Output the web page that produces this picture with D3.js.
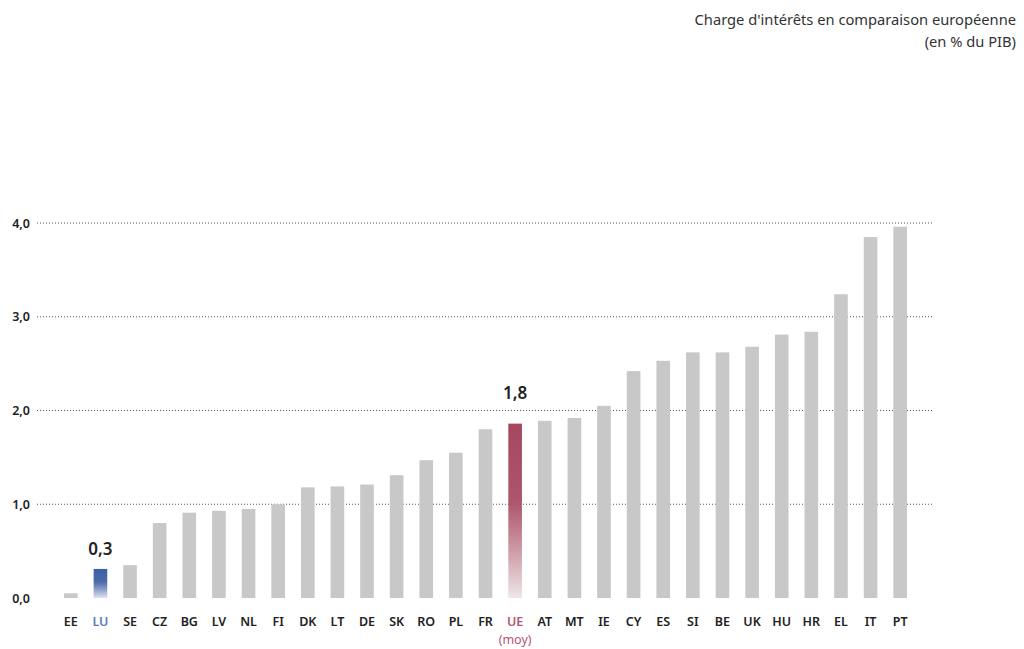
<!DOCTYPE html>
<html>
<head>
<meta charset="utf-8">
<script src="https://cdn.jsdelivr.net/npm/d3@7"></script>
<style>
  body { margin: 0; background: #fff; }
  svg { font-family: "Noto Sans", "Open Sans", sans-serif; }
</style>
</head>
<body>
<svg id="chart" width="1024" height="649"></svg>
<script>
// données
const countries = ['EE','LU','SE','CZ','BG','LV','NL','FI','DK','LT','DE','SK','RO','PL','FR','UE','AT','MT','IE','CY','ES','SI','BE','UK','HU','HR','EL','IT','PT'];
const values    = [0.05,0.31,0.35,0.80,0.91,0.93,0.95,1.00,1.18,1.19,1.21,1.31,1.47,1.55,1.80,1.86,1.89,1.92,2.05,2.42,2.53,2.62,2.62,2.68,2.81,2.84,3.24,3.85,3.96];
const yTicks    = [0, 1, 2, 3, 4];
const highlightLabels = {LU: '0,3', UE: '1,8'};

// style des points mis en avant
const labelOffset = {LU: 14, UE: 25};
const labelColor  = {LU: '#5a7bb5', UE: '#b5566f'};

const svg = d3.select('#chart');
const data = countries.map((c,i) => ({country: c, value: values[i]}));

// échelles
const x = d3.scaleBand().domain(countries).range([56, 915]).paddingInner(0.54).paddingOuter(0.27);
const y = d3.scaleLinear().domain([0, 4]).range([598, 223]);

// dégradés pour LU et UE
const defs = svg.append('defs');
[['grad-lu','#3b5fa3','#dfe3ee'],['grad-ue','#a6475f','#efe6e8']].forEach(([id,top,bottom]) => {
  const g = defs.append('linearGradient').attr('id', id)
    .attr('x1',0).attr('y1',0).attr('x2',0).attr('y2',1);
  g.append('stop').attr('offset','0%').attr('stop-color', top);
  g.append('stop').attr('offset','45%').attr('stop-color', top).attr('stop-opacity', 0.92);
  g.append('stop').attr('offset','100%').attr('stop-color', bottom);
});

// titre
svg.append('text').attr('x', 1016).attr('y', 25).attr('text-anchor','end')
  .attr('font-size', 14.7).attr('fill','#333').text("Charge d'intérêts en comparaison européenne");
svg.append('text').attr('x', 1016).attr('y', 47).attr('text-anchor','end')
  .attr('font-size', 14.7).attr('fill','#333').text('(en % du PIB)');

// grille
svg.append('g').selectAll('line').data(yTicks.filter(d => d > 0)).join('line')
  .attr('x1', 37).attr('x2', 932)
  .attr('y1', d => y(d)).attr('y2', d => y(d))
  .attr('stroke', '#555').attr('stroke-width', 1).attr('stroke-dasharray', '1,2');

// axe y
const yAxis = svg.append('g').attr('transform','translate(30,0)')
  .call(d3.axisLeft(y).tickValues(yTicks).tickSize(0).tickPadding(0)
    .tickFormat(d => d3.format('.1f')(d).replace('.', ',')));
yAxis.select('.domain').remove();
yAxis.selectAll('text').attr('font-size', 12.5).attr('font-weight', 600).attr('fill','#222')
  .attr('font-family','"Noto Sans", sans-serif');

// barres
svg.append('g').selectAll('rect').data(data).join('rect')
  .attr('x', d => x(d.country))
  .attr('width', x.bandwidth())
  .attr('y', d => y(d.value))
  .attr('height', d => y(0) - y(d.value))
  .attr('fill', d => d.country === 'LU' ? 'url(#grad-lu)' : d.country === 'UE' ? 'url(#grad-ue)' : '#c8c8c8');

// étiquettes de valeur
svg.append('g').selectAll('text').data(data.filter(d => highlightLabels[d.country])).join('text')
  .attr('x', d => x(d.country) + x.bandwidth()/2)
  .attr('y', d => y(d.value) - labelOffset[d.country])
  .attr('text-anchor','middle').attr('font-size', 17).attr('font-weight', 600).attr('fill','#222')
  .text(d => highlightLabels[d.country]);

// axe x
const xAxis = svg.append('g').attr('transform', `translate(0,${y(0)})`)
  .call(d3.axisBottom(x).tickSize(0).tickPadding(19));
xAxis.select('.domain').remove();
xAxis.selectAll('text').attr('font-size', 12.5).attr('font-weight', 600)
  .attr('font-family','"Noto Sans", sans-serif')
  .attr('fill', d => labelColor[d] || '#222');
svg.append('text')
  .attr('x', x('UE') + x.bandwidth()/2).attr('y', 644)
  .attr('text-anchor','middle').attr('font-size', 12.5).attr('fill', labelColor.UE).text('(moy)');
</script>
</body>
</html>
